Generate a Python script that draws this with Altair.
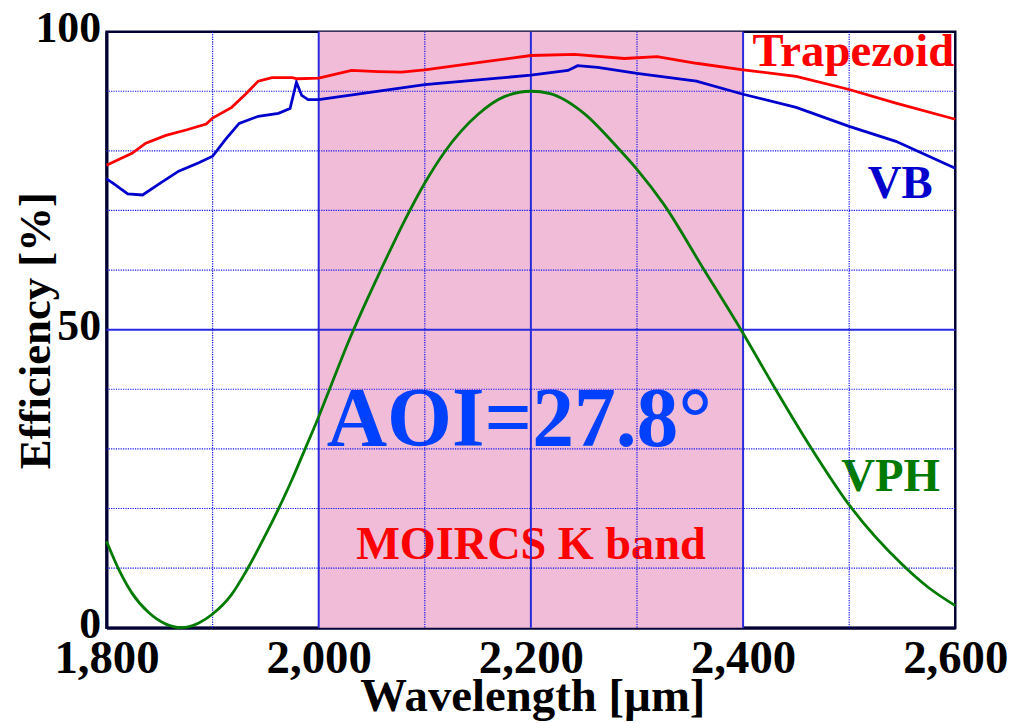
import altair as alt
import pandas as pd

# ---- data ----
trap_wl = [1800, 1812, 1824, 1837, 1856, 1875, 1894, 1900, 1918, 1931, 1943, 1956, 1975, 1980,
           2000, 2012, 2031, 2056, 2078, 2100, 2150, 2200, 2241, 2288, 2319, 2356, 2400, 2450,
           2500, 2544, 2600]
trap_eff = [77.6, 78.6, 79.6, 81.3, 82.6, 83.5, 84.5, 85.5, 87.3, 89.5, 91.7, 92.3, 92.3, 92.1,
            92.2, 92.7, 93.5, 93.3, 93.2, 93.6, 94.8, 96.0, 96.2, 95.5, 95.8, 94.7, 93.6, 92.5,
            90.3, 88.0, 85.3]

vb_wl = [1800, 1806, 1820, 1834, 1850, 1868, 1887, 1900, 1912, 1925, 1943, 1962, 1973, 1979,
         1984, 1990, 2000, 2100, 2169, 2200, 2235, 2244, 2263, 2300, 2356, 2400, 2450, 2500,
         2544, 2600]
vb_eff = [75.3, 74.6, 72.8, 72.6, 74.5, 76.6, 78.0, 79.1, 81.9, 84.6, 85.8, 86.3, 87.1, 91.5,
          89.3, 88.6, 88.6, 91.1, 92.2, 92.7, 93.5, 94.3, 94.0, 93.0, 91.7, 89.5, 87.3, 84.1,
          81.6, 77.1]

vph_wl = [1800, 1812, 1824, 1840, 1856, 1870, 1887, 1900, 1918, 1932, 1950, 1962, 1975, 1986,
          2000, 2012, 2030, 2047, 2058, 2081, 2100, 2119, 2150, 2175, 2200, 2218, 2250, 2281,
          2300, 2325, 2362, 2398, 2428, 2464, 2500, 2550, 2575, 2600]
vph_eff = [14.5, 9.6, 5.8, 2.5, 0.6, 0.0, 0.8, 2.3, 5.6, 9.6, 15.6, 19.9, 24.9, 29.5,
           35.4, 40.8, 48.8, 55.6, 59.8, 68.3, 74.6, 79.9, 86.1, 89.1, 90.0, 89.6, 86.3, 80.7,
           76.9, 71.1, 60.4, 50.0, 40.8, 30.2, 20.6, 10.6, 6.7, 3.7]

band_start = [2000]
band_end = [2400]

x_ticks = [1800, 2000, 2200, 2400, 2600]
y_ticks = [0, 50, 100]
grid_minor_x = [1900, 2100, 2300, 2500]
grid_major_x = [2000, 2200, 2400]
grid_minor_y = [10, 20, 30, 40, 60, 70, 80, 90]
grid_major_y = [50]

label_text = ["Trapezoid", "VB", "VPH", "MOIRCS K band"]
label_x = [2504, 2548, 2539, 2200]
label_y = [94.2, 72.1, 22.9, 11.5]
label_color = ["#FF0000", "#0000CC", "#007A00", "#FF0000"]
label_size = [47, 47, 47, 46.5]

aoi_text = ["AOI=27.8°"]
aoi_x = [2189]
aoi_y = [30.4]

# ---- chart ----
FONT = "Liberation Serif"
W, H = 853, 599

xs = alt.Scale(domain=[1800, 2600], nice=False, zero=False)
ys = alt.Scale(domain=[0, 100], nice=False, zero=False)

xaxis = alt.Axis(values=x_ticks, format=",d", grid=False, ticks=False,
                 domainColor="#000033", domainWidth=3,
                 labelFont=FONT, labelFontWeight="bold", labelFontSize=47, labelColor="black",
                 labelPadding=8, labelFlush=False, labelOverlap=False,
                 title="Wavelength [µm]", titleFont=FONT, titleFontWeight="bold",
                 titleFontSize=47, titleColor="black", titleX=428, titleY=83,
                 titleBaseline="alphabetic", titleAlign="center")
yaxis = alt.Axis(values=y_ticks, format="d", grid=False, ticks=False,
                 domainColor="#000033", domainWidth=3,
                 labelFont=FONT, labelFontWeight="bold", labelFontSize=44, labelColor="black",
                 labelPadding=6, labelOverlap=False, labelFlush=False, labelOffset=-3,
                 title="Efficiency [%]", titleFont=FONT, titleFontWeight="bold",
                 titleFontSize=45, titleColor="black", titleAngle=270, titleX=-57, titleY=300,
                 titleBaseline="alphabetic", titleAlign="center")


def X(field="x"):
    return alt.X(f"{field}:Q", scale=xs, axis=xaxis)


def Y(field="y"):
    return alt.Y(f"{field}:Q", scale=ys, axis=yaxis)


band = alt.Chart(pd.DataFrame({"x": band_start, "x2": band_end, "y": [0], "y2": [100]})).mark_rect(
    color="#F0BCD8").encode(x=X(), x2="x2:Q", y=Y(), y2="y2:Q")

labels = alt.Chart(pd.DataFrame({"x": label_x, "y": label_y, "t": label_text,
                                 "c": label_color, "s": label_size})).mark_text(
    font=FONT, fontWeight="bold", baseline="alphabetic", align="center").encode(
    x=X(), y=Y(), text="t:N", color=alt.Color("c:N", scale=None),
    size=alt.Size("s:Q", scale=None))

aoi = alt.Chart(pd.DataFrame({"x": aoi_x, "y": aoi_y, "t": aoi_text})).mark_text(
    font=FONT, fontWeight="bold", fontSize=84, baseline="alphabetic", align="center",
    color="#0040FF").encode(x=X(), y=Y(), text="t:N")

gx_minor = alt.Chart(pd.DataFrame({"x": grid_minor_x})).mark_rule(
    color="#1010EE", strokeWidth=1.2, strokeDash=[1.2, 1.2]).encode(x=X())
gy_minor = alt.Chart(pd.DataFrame({"y": grid_minor_y})).mark_rule(
    color="#1010EE", strokeWidth=1.2, strokeDash=[1.2, 1.2]).encode(y=Y())
gx_major = alt.Chart(pd.DataFrame({"x": grid_major_x})).mark_rule(
    color="#2A2ADD", strokeWidth=2).encode(x=X())
gy_major = alt.Chart(pd.DataFrame({"y": grid_major_y})).mark_rule(
    color="#2A2ADD", strokeWidth=2).encode(y=Y())

trap = alt.Chart(pd.DataFrame({"x": trap_wl, "y": trap_eff})).mark_line(
    color="#FF0000", strokeWidth=2.8).encode(x=X(), y=Y())
vb = alt.Chart(pd.DataFrame({"x": vb_wl, "y": vb_eff})).mark_line(
    color="#0000CC", strokeWidth=2.8).encode(x=X(), y=Y())
vph = alt.Chart(pd.DataFrame({"x": vph_wl, "y": vph_eff})).mark_line(
    color="#007A00", strokeWidth=2.8, interpolate="monotone").encode(x=X(), y=Y())

chart = alt.layer(band, labels, aoi, gx_minor, gy_minor, gx_major, gy_major, vph, vb, trap).properties(
    width=W, height=H,
    autosize=alt.AutoSizeParams(type="none"),
    padding={"left": 99, "top": 22, "right": 55, "bottom": 92},
).configure_view(stroke="#000033", strokeWidth=2.5)

chart.save("out.html", embed_options={"renderer": "svg", "actions": False})
